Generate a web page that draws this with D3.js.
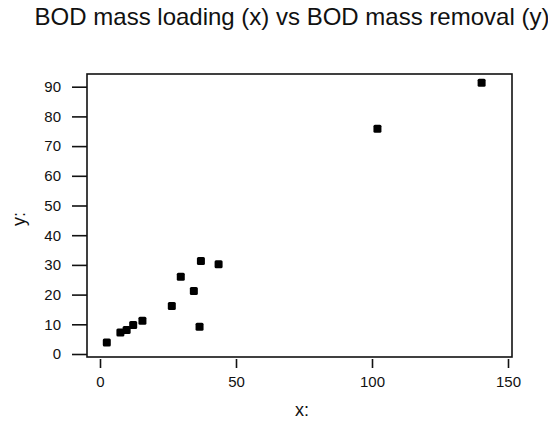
<!DOCTYPE html>
<html>
<head>
<meta charset="utf-8">
<script src="https://cdn.jsdelivr.net/npm/d3@7"></script>
<style>
    body { margin: 0; background: #fff; }
    svg { display: block; font-family: "Liberation Sans", Arial, sans-serif; }
    .tick text { font-size: 15px; fill: #111; }
    .tick line { stroke: #111; stroke-width: 1.6; }
</style>
</head>
<body>
<div id="chart"></div>
<script>
(function (d3) {
    'use strict';

    // BOD mass loading (x) and BOD mass removal (y).
    var loading = [2.5, 7.5, 9.8, 12.2, 15.6, 26.4, 29.7, 34.5, 36.6, 37.1, 43.6, 102, 140.3];
    var removal = [3.9, 7.2, 8.1, 9.8, 11.2, 16.2, 26.0, 21.2, 9.2, 31.3, 30.2, 75.8, 91.3];
    var xTicks = [0, 50, 100, 150];
    var yTicks = [0, 10, 20, 30, 40, 50, 60, 70, 80, 90];

    var width = 548, height = 421;
    // Plot frame, in pixels.
    var box = {left: 87, right: 512, top: 74, bottom: 357};

    var svg = d3.select('#chart').append('svg')
        .attr('width', width)
        .attr('height', height)
    ;

    var x = d3.scaleLinear().domain([0, 150]).range([100, 508]);
    var y = d3.scaleLinear().domain([0, 90]).range([354, 86.7]);

    svg.append('text')
        .attr('x', 292)
        .attr('y', 25)
        .attr('text-anchor', 'middle')
        .style('font-size', '24px')
        .style('fill', '#111')
        .text('BOD mass loading (x) vs BOD mass removal (y)')
    ;

    // Frame around the plot area.
    svg.append('rect')
        .attr('x', box.left)
        .attr('y', box.top)
        .attr('width', box.right - box.left)
        .attr('height', box.bottom - box.top)
        .attr('fill', 'none')
        .attr('stroke', '#111')
        .attr('stroke-width', 1.6)
    ;

    var yAxis = svg.append('g')
        .attr('transform', translate(box.left, 0))
        .call(d3.axisLeft(y).tickValues(yTicks).tickSize(15).tickPadding(11))
    ;
    yAxis.select('.domain').remove();

    var xAxis = svg.append('g')
        .attr('transform', translate(0, box.bottom + 2))
        .call(d3.axisBottom(x).tickValues(xTicks).tickSize(9).tickPadding(8))
    ;
    xAxis.select('.domain').remove();

    svg.append('text')
        .attr('x', 302)
        .attr('y', 416)
        .attr('text-anchor', 'middle')
        .style('font-size', '18px')
        .style('fill', '#111')
        .text('x:')
    ;

    svg.append('text')
        .attr('transform', translate(25, 219) + ' rotate(-90)')
        .attr('text-anchor', 'middle')
        .style('font-size', '18px')
        .style('fill', '#111')
        .text('y:')
    ;

    var size = 8;
    svg.append('g')
        .selectAll('rect')
        .data(loading)
        .enter()
        .append('rect')
        .attr('x', function (d) { return x(d) - size / 2; })
        .attr('y', function (d, i) { return y(removal[i]) - size / 2; })
        .attr('width', size)
        .attr('height', size)
        .attr('rx', 1.5)
        .attr('fill', '#000')
    ;

    function translate(a, b) {
        return 'translate(' + a + ',' + b + ')';
    }
})(d3);
</script>
</body>
</html>
